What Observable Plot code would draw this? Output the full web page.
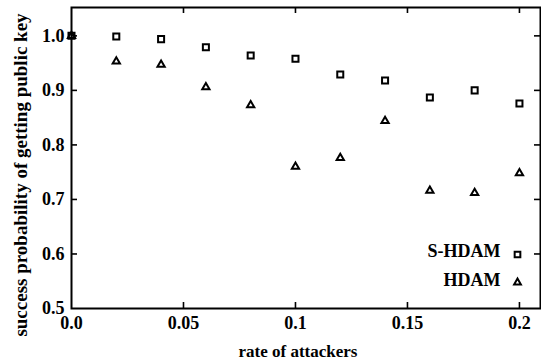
<!DOCTYPE html>
<html>
<head>
<meta charset="utf-8">
<script src="https://cdn.jsdelivr.net/npm/d3@7"></script>
<script src="https://cdn.jsdelivr.net/npm/@observablehq/plot@0.6"></script>
<style>
  html, body { margin: 0; padding: 0; background: #fff; }
  svg { display: block; }
  svg text { font-family: 'Liberation Serif', 'Times New Roman', serif !important; font-weight: bold; }
  svg g[aria-label$="tick label"] text { font-size: 18px !important; }
</style>
</head>
<body>
<div id="chart"></div>
<script>
const rates = [0, 0.02, 0.04, 0.06, 0.08, 0.1, 0.12, 0.14, 0.16, 0.18, 0.2];
const sHdam = [1.0, 0.999, 0.994, 0.979, 0.964, 0.958, 0.929, 0.918, 0.887, 0.900, 0.876];
const hdam  = [1.0, 0.953, 0.947, 0.906, 0.873, 0.760, 0.776, 0.844, 0.716, 0.712, 0.748];
const seriesNames = ["S-HDAM", "HDAM"];
const xTicks = [0, 0.05, 0.1, 0.15, 0.2];
const xTickLabels = ["0.0", "0.05", "0.1", "0.15", "0.2"];
const yTicks = [0.5, 0.6, 0.7, 0.8, 0.9, 1.0];
const yTickLabels = ["0.5", "0.6", "0.7", "0.8", "0.9", "1.0"];
const xLabel = "rate of attackers";
const yLabel = "success probability of getting public key";

const W = 541, H = 364;
const mL = 71, mR = 1, mT = 7, mB = 56;
const innerW = W - mL - mR, innerH = H - mT - mB;
const tickLen = 6;
const font = "'Liberation Serif', 'Times New Roman', serif";

const sData = rates.map((r, i) => ({rate: r, value: sHdam[i]}));
const hData = rates.map((r, i) => ({rate: r, value: hdam[i]}));

const chart = Plot.plot({
  width: W,
  height: H,
  marginLeft: mL,
  marginRight: mR,
  marginTop: mT,
  marginBottom: mB,
  style: {fontFamily: font, fontWeight: "bold", background: "#fff", color: "#000"},
  x: {domain: [0, 0.2094]},
  y: {domain: [0.5, 1.052]},
  marks: [
    Plot.frame({stroke: "#000", strokeWidth: 2}),
    Plot.axisX({ticks: xTicks, tickSize: 0, tickPadding: 8, fontSize: 18, fontFamily: font, fontWeight: "bold",
      tickFormat: d => xTickLabels[xTicks.indexOf(d)], label: null}),
    Plot.axisY({ticks: yTicks, tickSize: 0, tickPadding: 7, fontSize: 18, fontFamily: font, fontWeight: "bold",
      tickFormat: d => yTickLabels[yTicks.indexOf(d)], label: null}),
    // inward ticks: bottom, top, left, right
    Plot.tickX(xTicks.slice(1), {x: d => d, insetTop: innerH - tickLen, stroke: "#000", strokeWidth: 1.6}),
    Plot.tickX(xTicks.slice(1), {x: d => d, insetBottom: innerH - tickLen, stroke: "#000", strokeWidth: 1.6}),
    Plot.tickY(yTicks.slice(1), {y: d => d, insetRight: innerW - tickLen, stroke: "#000", strokeWidth: 1.6}),
    Plot.tickY(yTicks.slice(1), {y: d => d, insetLeft: innerW - tickLen, stroke: "#000", strokeWidth: 1.6}),
    // data
    Plot.dot(sData, {x: "rate", y: "value", symbol: "square", r: 3.4, stroke: "#000", strokeWidth: 2, fill: "none"}),
    Plot.dot(hData, {x: "rate", y: "value", symbol: "triangle", r: 2.7, stroke: "#000", strokeWidth: 2, fill: "none"}),
    // legend
    Plot.text([seriesNames[0]], {text: d => d, frameAnchor: "bottom-right", textAnchor: "end", lineAnchor: "middle",
      dx: -40, dy: -57, fontSize: 18, fontFamily: font}),
    Plot.text([seriesNames[1]], {text: d => d, frameAnchor: "bottom-right", textAnchor: "end", lineAnchor: "middle",
      dx: -40, dy: -28, fontSize: 18, fontFamily: font}),
    Plot.dot([seriesNames[0]], {frameAnchor: "bottom-right", dx: -23, dy: -54, symbol: "square", r: 3.2,
      stroke: "#000", strokeWidth: 2, fill: "none"}),
    Plot.dot([seriesNames[1]], {frameAnchor: "bottom-right", dx: -23, dy: -26, symbol: "triangle", r: 2.5,
      stroke: "#000", strokeWidth: 2, fill: "none"}),
    // axis titles
    Plot.text([xLabel], {text: d => d, frameAnchor: "bottom", textAnchor: "middle", lineAnchor: "middle",
      dx: -8, dy: 43, fontSize: 17, fontFamily: font}),
    Plot.text([yLabel], {text: d => d, frameAnchor: "left", textAnchor: "middle", lineAnchor: "middle",
      rotate: -90, dx: -51, dy: 17, fontSize: 19, fontFamily: font})
  ]
});
document.getElementById("chart").appendChild(chart);
</script>
</body>
</html>
